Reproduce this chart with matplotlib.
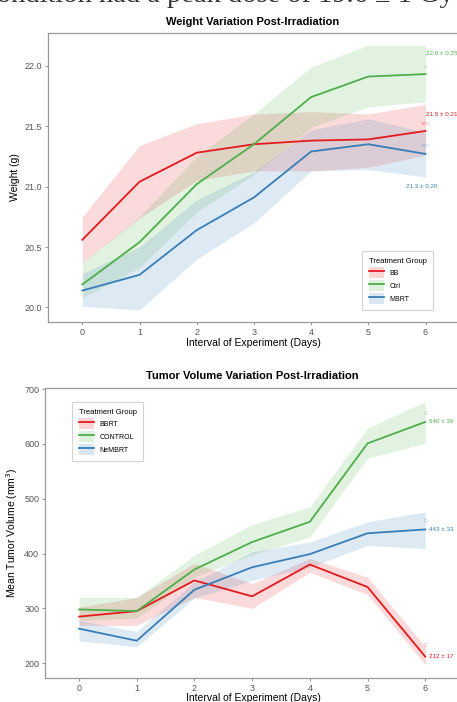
import matplotlib.pyplot as plt
from matplotlib.patches import Patch
from matplotlib.lines import Line2D

plt.rcParams['font.family'] = ['Liberation Sans', 'DejaVu Sans']

days = [0, 1, 2, 3, 4, 5, 6]

# weight (g)
bb_w = [20.56, 21.04, 21.28, 21.35, 21.38, 21.39, 21.46]
bb_w_lo = [20.37, 20.74, 21.05, 21.13, 21.13, 21.16, 21.26]
bb_w_hi = [20.75, 21.34, 21.52, 21.60, 21.62, 21.60, 21.68]
ctrl_w = [20.19, 20.54, 21.02, 21.35, 21.74, 21.91, 21.93]
ctrl_w_lo = [20.08, 20.33, 20.79, 21.10, 21.49, 21.66, 21.70]
ctrl_w_hi = [20.37, 20.75, 21.25, 21.60, 21.99, 22.17, 22.17]
mbrt_w = [20.14, 20.27, 20.64, 20.91, 21.29, 21.35, 21.27]
mbrt_w_lo = [20.01, 19.98, 20.40, 20.70, 21.13, 21.14, 21.08]
mbrt_w_hi = [20.28, 20.50, 20.89, 21.12, 21.47, 21.56, 21.45]

# tumor volume (mm3)
bbrt_v = [285, 295, 351, 322, 380, 339, 212]
bbrt_v_lo = [269, 269, 320, 300, 366, 325, 197]
bbrt_v_hi = [302, 320, 382, 345, 391, 357, 230]
ctl_v = [298, 295, 371, 421, 458, 601, 640]
ctl_v_lo = [278, 282, 357, 398, 430, 574, 601]
ctl_v_hi = [320, 320, 397, 453, 485, 629, 677]
nembrt_v = [263, 241, 334, 375, 399, 437, 444]
nembrt_v_lo = [241, 230, 319, 351, 375, 415, 409]
nembrt_v_hi = [278, 258, 348, 403, 421, 458, 476]

weight_labels = ['BB', 'Ctrl', 'MBRT']
weight_end = ['21.5 ± 0.21', '22.0 ± 0.25', '21.3 ± 0.20']
weight_letters = ['abc', 'a', 'abc']
volume_labels = ['BBRT', 'CONTROL', 'NeMBRT']
volume_end = ['212 ± 17', '640 ± 39', '443 ± 33']
volume_letters = ['c', 'a', 'b']

RED = '#E41A1C'
GREEN = '#4DAF4A'
BLUE = '#377EB8'
colors = [RED, GREEN, BLUE]

W, H = 457, 702
fig = plt.figure(figsize=(W / 100, H / 100), dpi=100)

# cut-off line of body text above the figure
fig.text(-0.035, 1 - 2.5 / H, 'condition had a peak dose of 19.6 ± 1 Gy',
         family=['Liberation Serif'], fontsize=20.5, va='baseline', ha='left',
         color='#333333')


def style_axes(ax):
    for s in ax.spines.values():
        s.set_color('#9a9a9a')
        s.set_linewidth(0.9)
    ax.tick_params(colors='#9a9a9a', labelcolor='#555555', labelsize=6.5,
                   length=2.2, width=0.8, pad=2)
    ax.set_xticks(days)


def draw(ax, series):
    for (m, lo, hi), c in zip(series, colors):
        ax.fill_between(days, lo, hi, color=c, alpha=0.16, lw=0)
        ax.plot(days, m, color=c, lw=1.3)


def add_legend(ax, labels, anchor):
    handles = [(Patch(facecolor=c, alpha=0.18, lw=0),
                Line2D([], [], color=c, lw=1.3)) for c in colors]
    leg = ax.legend(handles, labels, title='Treatment Group', fontsize=5,
                    title_fontsize=5.5, loc='upper left', bbox_to_anchor=anchor,
                    frameon=True, fancybox=False, edgecolor='#c8c8c8',
                    handlelength=2.2, handleheight=2.0, borderpad=0.9,
                    labelspacing=0.35, handletextpad=0.8)
    leg.get_frame().set_linewidth(0.8)
    leg._legend_box.align = 'left'
    return leg


# ---- top panel ----
ax1 = fig.add_axes([48 / W, 1 - 322 / H, (500 - 48) / W, 289 / H])
style_axes(ax1)
ax1.set_xlim(-0.6, -0.6 + (500 - 48) / 57.2)
ax1.set_ylim(19.88, 22.27)
ax1.set_yticks([20.0, 20.5, 21.0, 21.5, 22.0])
ax1.set_yticklabels(['20.0', '20.5', '21.0', '21.5', '22.0'])
draw(ax1, [(bb_w, bb_w_lo, bb_w_hi), (ctrl_w, ctrl_w_lo, ctrl_w_hi),
           (mbrt_w, mbrt_w_lo, mbrt_w_hi)])
ax1.text(6, 21.51, weight_letters[0], color=RED, alpha=0.35, fontsize=4.5, ha='center')
ax1.text(6, 21.98, weight_letters[1], color=GREEN, alpha=0.35, fontsize=4.5, ha='center')
ax1.text(6, 21.33, weight_letters[2], color=BLUE, alpha=0.35, fontsize=4.5, ha='center')
ax1.text(6.0, 21.60, weight_end[0], color=RED, fontsize=4.5, va='center')
ax1.text(6.0, 22.10, weight_end[1], color=GREEN, fontsize=4.5, va='center')
ax1.text(5.65, 21.00, weight_end[2], color=BLUE, fontsize=4.5, va='center')
ax1.set_ylabel('Weight (g)', fontsize=7.5, labelpad=3)
fig.text(253 / W, 1 - 343 / H, 'Interval of Experiment (Days)', fontsize=7.5,
         ha='center', va='center')
fig.text(253 / W, 1 - 22 / H, 'Weight Variation Post-Irradiation', fontsize=8,
         weight='bold', ha='center', va='center')
add_legend(ax1, weight_labels, ((359 - 48) / (500 - 48), (322 - 248) / 289))

# ---- bottom panel ----
ax2 = fig.add_axes([45 / W, 1 - 678 / H, (500 - 45) / W, 290 / H])
style_axes(ax2)
ax2.set_xlim(-0.59, -0.59 + (500 - 45) / 57.7)
ax2.set_ylim(173, 702)
ax2.set_yticks([200, 300, 400, 500, 600, 700])
draw(ax2, [(bbrt_v, bbrt_v_lo, bbrt_v_hi), (ctl_v, ctl_v_lo, ctl_v_hi),
           (nembrt_v, nembrt_v_lo, nembrt_v_hi)])
ax2.text(6, 229, volume_letters[0], color=RED, alpha=0.35, fontsize=5, ha='center')
ax2.text(6, 652, volume_letters[1], color=GREEN, alpha=0.35, fontsize=5, ha='center')
ax2.text(6, 455, volume_letters[2], color=BLUE, alpha=0.35, fontsize=5, ha='center')
ax2.text(6.07, 212, volume_end[0], color=RED, fontsize=4.5, va='center')
ax2.text(6.07, 640, volume_end[1], color=GREEN, fontsize=4.5, va='center')
ax2.text(6.07, 443, volume_end[2], color=BLUE, fontsize=4.5, va='center')
ax2.set_ylabel('Mean Tumor Volume (mm$^3$)', fontsize=7.5, labelpad=3)
fig.text(253 / W, 1 - 698 / H, 'Interval of Experiment (Days)', fontsize=7.5,
         ha='center', va='center')
fig.text(252 / W, 1 - 376 / H, 'Tumor Volume Variation Post-Irradiation',
         fontsize=8, weight='bold', ha='center', va='center')
add_legend(ax2, volume_labels, ((69 - 45) / (500 - 45), (678 - 399) / 290))

fig.savefig('out.png', dpi=100)
